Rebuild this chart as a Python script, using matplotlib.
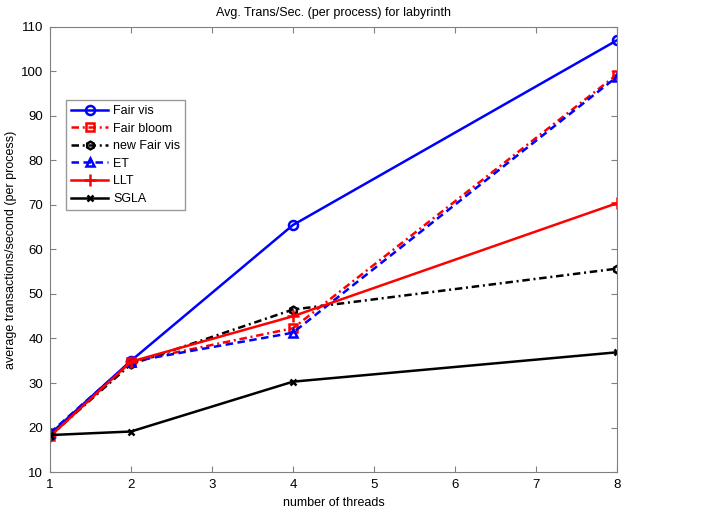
import numpy as np
import matplotlib.pyplot as plt

plt.rcParams['font.family'] = ['Liberation Sans', 'DejaVu Sans']
plt.rcParams['font.size'] = 9.5

threads = [1, 2, 4, 8]
fair_vis = [18.5, 35.0, 65.5, 107.0]
fair_bloom = [18.0, 34.8, 42.3, 99.3]
new_fair_vis = [18.2, 34.2, 46.5, 55.7]
et = [18.8, 34.8, 41.3, 98.8]
llt = [18.0, 34.8, 45.0, 70.4]
sgla = [18.3, 19.1, 30.3, 36.9]

fig = plt.figure(figsize=(7.01, 5.14), dpi=100)
ax = fig.add_axes([0.0713, 0.0817, 0.8087, 0.8658])

lw = 1.8
dashdot = (0, (3, 1.5, 0.8, 1.5))
dashed = (0, (3, 1.8))
ax.plot(threads, fair_vis, color='blue', linestyle='-', marker='o', mfc='none',
        mew=1.8, ms=6.5, lw=lw, label='Fair vis')
ax.plot(threads, fair_bloom, color='red', linestyle=dashdot, marker='s', mfc='none',
        mew=1.8, ms=6, lw=lw, label='Fair bloom')
ax.plot(threads, new_fair_vis, color='black', linestyle=dashdot, marker='h', mfc='none',
        mew=1.8, ms=5.5, lw=lw, label='new Fair vis')
ax.plot(threads, et, color='blue', linestyle=dashed, marker='^', mfc='none',
        mew=1.8, ms=6, lw=lw, label='ET')
ax.plot(threads, llt, color='red', linestyle='-', marker='+',
        mew=1.8, ms=9, lw=lw, label='LLT')
ax.plot(threads, sgla, color='black', linestyle='-', marker='x',
        mew=1.8, ms=5, lw=lw, label='SGLA')

ax.set_xlim(1, 8)
ax.set_ylim(10, 110)
ax.set_xticks(range(1, 9))
ax.set_yticks(np.arange(10, 111, 10))
ax.tick_params(direction='in', top=True, right=True, length=4, color='#808080', pad=5)
for s in ax.spines.values():
    s.set_color('#808080')

ax.set_xlabel('number of threads', fontsize=9, labelpad=4)
ax.set_ylabel('average transactions/second (per process)', fontsize=9, labelpad=3)
ax.set_title('Avg. Trans/Sec. (per process) for labyrinth', fontsize=9, pad=8)

leg = ax.legend(loc='upper left', bbox_to_anchor=(0.028, 0.836), fancybox=False,
                edgecolor='#808080', handlelength=3.0, labelspacing=0.45,
                borderaxespad=0, handletextpad=0.4, fontsize=9)
leg.get_frame().set_linewidth(1)

fig.savefig('out.png', dpi=100)
